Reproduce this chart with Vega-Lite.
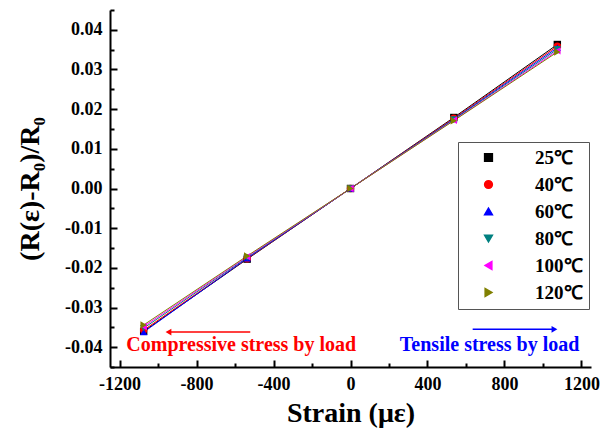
{
  "$schema": "https://vega.github.io/schema/vega-lite/v6.json",
  "width": 481,
  "height": 357,
  "autosize": {"type": "none"},
  "padding": {"left": 110, "top": 10, "right": 22, "bottom": 63},
  "background": "white",
  "config": {
    "view": {"stroke": null},
    "font": "Liberation Serif",
    "axis": {
      "domainColor": "black",
      "domainWidth": 2,
      "tickColor": "black",
      "tickWidth": 2,
      "grid": false,
      "labelOverlap": false,
      "labelFont": "Liberation Serif",
      "labelFontWeight": "bold",
      "labelFontSize": 18,
      "labelColor": "black",
      "titleFont": "Liberation Serif",
      "titleFontWeight": "bold",
      "titleFontSize": 28,
      "titleColor": "black"
    }
  },
  "datasets": {
    "main": [
      {"T": "25℃", "strain": -1075, "dR": -0.0360},
      {"T": "25℃", "strain": -537, "dR": -0.0178},
      {"T": "25℃", "strain": 0, "dR": 0.0},
      {"T": "25℃", "strain": 537, "dR": 0.0179},
      {"T": "25℃", "strain": 1075, "dR": 0.0363},
      {"T": "40℃", "strain": -1075, "dR": -0.0357},
      {"T": "40℃", "strain": -537, "dR": -0.0177},
      {"T": "40℃", "strain": 0, "dR": 0.0},
      {"T": "40℃", "strain": 537, "dR": 0.0177},
      {"T": "40℃", "strain": 1075, "dR": 0.0359},
      {"T": "60℃", "strain": -1075, "dR": -0.0362},
      {"T": "60℃", "strain": -537, "dR": -0.0176},
      {"T": "60℃", "strain": 0, "dR": 0.0},
      {"T": "60℃", "strain": 537, "dR": 0.0175},
      {"T": "60℃", "strain": 1075, "dR": 0.0355},
      {"T": "80℃", "strain": -1075, "dR": -0.0352},
      {"T": "80℃", "strain": -537, "dR": -0.0174},
      {"T": "80℃", "strain": 0, "dR": 0.0},
      {"T": "80℃", "strain": 537, "dR": 0.0174},
      {"T": "80℃", "strain": 1075, "dR": 0.0351},
      {"T": "100℃", "strain": -1075, "dR": -0.0348},
      {"T": "100℃", "strain": -537, "dR": -0.0172},
      {"T": "100℃", "strain": 0, "dR": 0.0},
      {"T": "100℃", "strain": 537, "dR": 0.0172},
      {"T": "100℃", "strain": 1075, "dR": 0.0347},
      {"T": "120℃", "strain": -1075, "dR": -0.0344},
      {"T": "120℃", "strain": -537, "dR": -0.0170},
      {"T": "120℃", "strain": 0, "dR": 0.0},
      {"T": "120℃", "strain": 537, "dR": 0.0171},
      {"T": "120℃", "strain": 1075, "dR": 0.0344}
    ],
    "notes": [
      {"label": "Compressive stress by load", "x": -568, "y": -0.0395, "c": "red"},
      {"label": "Tensile stress by load", "x": 723, "y": -0.0395, "c": "blue"}
    ],
    "arrows": [
      {"c": "red", "tail": -521, "tip": -946, "y": -0.0362, "head": "triangle-left"},
      {"c": "blue", "tail": 635, "tip": 1060, "y": -0.0355, "head": "triangle-right"}
    ]
  },
  "layer": [
    {
      "data": {"name": "main"},
      "mark": {"type": "line", "strokeWidth": 1},
      "encoding": {
        "x": {
          "field": "strain", "type": "quantitative",
          "scale": {"domain": [-1250, 1250], "nice": false, "zero": false},
          "axis": {
            "title": "Strain (με)",
            "values": [-1200, -1000, -800, -600, -400, -200, 0, 200, 400, 600, 800, 1000, 1200],
            "labelExpr": "datum.value % 400 === 0 ? replace(format(datum.value, 'd'), '−', '-') : ''",
            "tickSize": {"condition": {"test": "datum.value % 400 === 0", "value": -7}, "value": -4},
            "labelOverlap": false,
            "labelPadding": 15,
            "titlePadding": 3
          }
        },
        "y": {
          "field": "dR", "type": "quantitative",
          "scale": {"domain": [-0.045, 0.045], "nice": false, "zero": false},
          "axis": {
            "title": "(R(ε)-R₀)/R₀",
            "tickCount": 18,
            "format": ".3f",
            "labelExpr": "slice(datum.label, -1) === '0' ? replace(slice(datum.label, 0, -1), '−', '-') : ''",
            "tickSize": {"condition": {"test": "slice(datum.label, -1) === '0'", "value": -7}, "value": -4},
            "labelOverlap": false,
            "labelPadding": 15,
            "titlePadding": 20
          }
        },
        "color": {
          "field": "T", "type": "nominal",
          "scale": {
            "domain": ["25℃", "40℃", "60℃", "80℃", "100℃", "120℃"],
            "range": ["#000000", "#ff0000", "#0000ff", "#008080", "#ff00ff", "#808000"]
          }
        },
        "detail": {"field": "T"}
      }
    },
    {
      "data": {"name": "main"},
      "mark": {"type": "point", "filled": true, "size": 55, "opacity": 1},
      "encoding": {
        "x": {"field": "strain", "type": "quantitative"},
        "y": {"field": "dR", "type": "quantitative"},
        "color": {
          "field": "T", "type": "nominal",
          "legend": {
            "title": null,
            "orient": "none",
            "legendX": 348,
            "legendY": 132,
            "direction": "vertical",
            "strokeColor": "#555555",
            "fillColor": "white",
            "padding": 6,
            "symbolSize": 60,
            "symbolOffset": 15,
            "labelOffset": 37,
            "rowPadding": 7,
            "labelFont": "Liberation Serif",
            "labelFontWeight": "bold",
            "labelFontSize": 19,
            "labelColor": "black"
          }
        },
        "shape": {
          "field": "T", "type": "nominal",
          "scale": {
            "domain": ["25℃", "40℃", "60℃", "80℃", "100℃", "120℃"],
            "range": ["square", "circle", "triangle-up", "triangle-down", "triangle-left", "triangle-right"]
          }
        }
      }
    },
    {
      "data": {"name": "arrows"},
      "mark": {"type": "rule", "strokeWidth": 1.5},
      "encoding": {
        "x": {"field": "tail", "type": "quantitative"},
        "x2": {"field": "tip"},
        "y": {"field": "y", "type": "quantitative"},
        "color": {"field": "c", "type": "nominal", "scale": null}
      }
    },
    {
      "data": {"name": "arrows"},
      "mark": {"type": "point", "filled": true, "size": 45, "opacity": 1},
      "encoding": {
        "x": {"field": "tip", "type": "quantitative"},
        "y": {"field": "y", "type": "quantitative"},
        "shape": {"field": "head", "type": "nominal", "scale": null},
        "color": {"field": "c", "type": "nominal", "scale": null}
      }
    },
    {
      "data": {"name": "notes"},
      "mark": {"type": "text", "font": "Liberation Serif", "fontWeight": "bold", "fontSize": 20, "align": "center", "baseline": "middle"},
      "encoding": {
        "x": {"field": "x", "type": "quantitative"},
        "y": {"field": "y", "type": "quantitative"},
        "text": {"field": "label"},
        "color": {"field": "c", "type": "nominal", "scale": null}
      }
    }
  ]
}
